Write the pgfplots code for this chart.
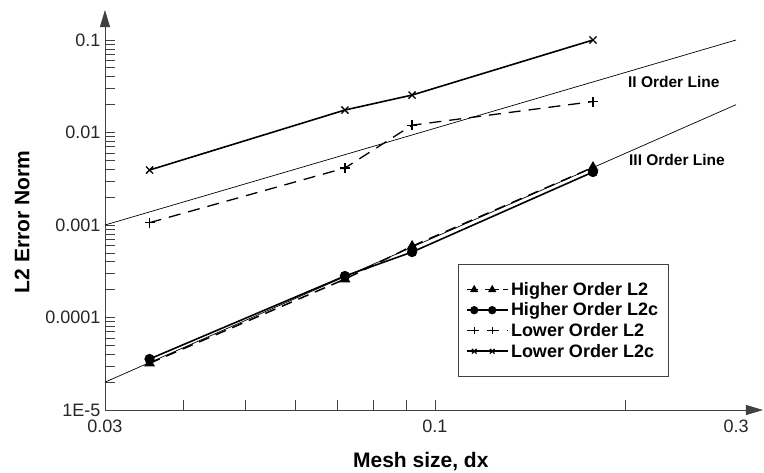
\documentclass[border=0pt]{standalone}
\usepackage{fontspec}
\setmainfont{Liberation Sans}
\usepackage{pgfplots}
\pgfplotsset{compat=1.18}
\usetikzlibrary{arrows.meta}

\pgfplotsset{
  pair legend/.style={legend image code/.code={%
    \draw[##1, mark size=3.3bp, mark indices={2,3}]
      plot coordinates {(0bp,0bp) (7bp,0bp) (25bp,0bp) (32bp,0bp)};
    \path (0bp,0bp) -- (41bp,0bp);}},
  pair legend dashed/.style={legend image code/.code={%
    \draw[##1, mark size=3.3bp, mark indices={2,3}, dash pattern=on 7bp off 18bp]
      plot coordinates {(0bp,0bp) (7bp,0bp) (25bp,0bp) (32bp,0bp)};
    \path (0bp,0bp) -- (41bp,0bp);}},
}

\begin{document}
\begin{tikzpicture}
\useasboundingbox (-105bp,-63bp) rectangle (659bp,410bp);
\begin{axis}[
  at={(0,0)}, anchor=south west,
  scale only axis,
  width=658bp, height=400bp,
  xmode=log, ymode=log,
  xmin=0.03, xmax=0.331,
  ymin=1e-5, ymax=0.211,
  axis lines=left,
  axis line style={line width=0.8bp, draw=black!75, -{Triangle[length=17bp,width=10bp]}},
  clip=false,
  tick align=inside,
  major tick length=10bp, minor tick length=10bp,
  tick style={line width=0.7bp, draw=black!75},
  xtick={0.03,0.1},
  xticklabels={0.03,0.1},
  minor xtick={0.04,0.05,0.06,0.07,0.08,0.09,0.2},
  extra x ticks={0.3}, extra x tick labels={0.3},
  extra x tick style={major tick length=0pt},
  ytick={1e-5,1e-4,1e-3,1e-2,1e-1},
  yticklabels={1E-5,0.0001,0.001,0.01,0.1},
  minor ytick={2e-5,3e-5,4e-5,5e-5,6e-5,7e-5,8e-5,9e-5,
               2e-4,3e-4,4e-4,5e-4,6e-4,7e-4,8e-4,9e-4,
               2e-3,3e-3,4e-3,5e-3,6e-3,7e-3,8e-3,9e-3,
               2e-2,3e-2,4e-2,5e-2,6e-2,7e-2,8e-2,9e-2},
  ticklabel style={font=\fontsize{18bp}{21bp}\selectfont, text=black!85},
  xticklabel style={yshift=-6bp},
  yticklabel style={xshift=-1bp},
  xlabel={\textbf{Mesh size, dx}},
  ylabel={\textbf{L2 Error Norm}},
  label style={font=\fontsize{21bp}{24bp}\selectfont},
  xlabel style={at={(axis description cs:0.480,-0.13)}, anchor=center},
  ylabel style={at={(axis description cs:-0.126,0.47)}, anchor=center},
  legend style={at={(0.5365,0.365)}, anchor=north west,
    draw=black!75, line width=0.8bp,
    font=\fontsize{18bp}{21bp}\selectfont\bfseries,
    inner xsep=8bp, inner ysep=16bp,
    row sep=2bp},
  legend cell align=left,
]
% reference slope lines
\addplot[black, line width=0.7bp, forget plot] coordinates {(0.03,0.001) (0.3,0.1)};
\addplot[black, line width=0.7bp, forget plot] coordinates {(0.03,2e-5) (0.3,0.02)};
\node[font=\fontsize{15.5bp}{18bp}\selectfont\bfseries] at (axis cs:0.239,0.0352) {II Order Line};
\node[font=\fontsize{15.5bp}{18bp}\selectfont\bfseries] at (axis cs:0.2418,0.00504) {III Order Line};

% Higher Order L2
\addplot[black, line width=1.5bp, dash pattern=on 11bp off 7bp, mark=triangle*, mark size=4.8bp,
  mark options={solid}, pair legend dashed] coordinates {
  (0.0353,3.2e-5) (0.0720,2.6e-4) (0.0920,5.9e-4) (0.178,4.2e-3)};
\addlegendentry{Higher Order L2}
% Higher Order L2c
\addplot[black, line width=1.6bp, mark=*, mark size=4.3bp, pair legend] coordinates {
  (0.0353,3.56e-5) (0.0720,2.81e-4) (0.0920,5.1e-4) (0.178,3.74e-3)};
\addlegendentry{Higher Order L2c}
% Lower Order L2
\addplot[black, line width=1.3bp, dash pattern=on 12bp off 8bp, mark=+, mark size=5bp,
  mark options={solid, line width=1.3bp}, pair legend dashed] coordinates {
  (0.0353,0.00106) (0.0720,0.00413) (0.0920,0.0120) (0.178,0.0216)};
\addlegendentry{Lower Order L2}
% Lower Order L2c
\addplot[black, line width=1.6bp, mark=x, mark size=5bp,
  mark options={line width=1.3bp}, pair legend] coordinates {
  (0.0353,0.00393) (0.0720,0.0175) (0.0920,0.0254) (0.178,0.1)};
\addlegendentry{Lower Order L2c}
\end{axis}
\end{tikzpicture}
\end{document}
